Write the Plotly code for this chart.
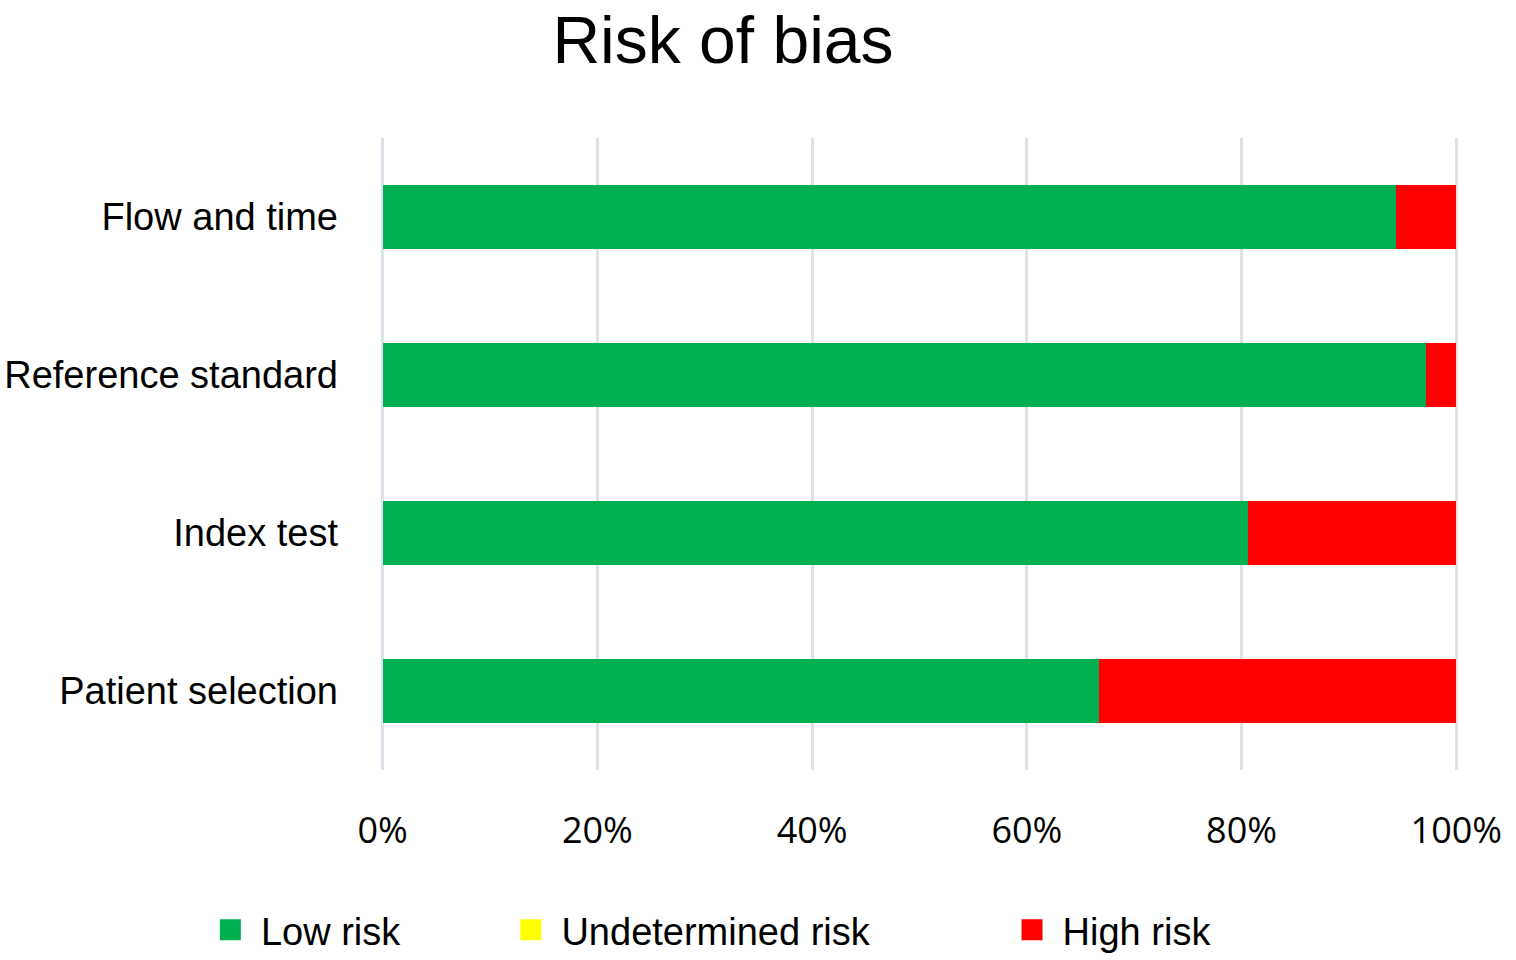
import plotly.graph_objects as go

categories = ["Patient selection", "Index test", "Reference standard", "Flow and time"]
low_risk = [66.7, 80.6, 97.2, 94.4]
undetermined_risk = [0, 0, 0, 0]
high_risk = [33.3, 19.4, 2.8, 5.6]
tick_vals = [0, 20, 40, 60, 80, 100]
tick_text = ["0%", "20%", "40%", "60%", "80%", "100%"]

NB = "\u00a0"
series = [
    ("Low risk", low_risk, "#00B050", 10),
    ("Undetermined risk", undetermined_risk, "#FFFF00", 13),
    ("High risk", high_risk, "#FF0000", 0),
]

fig = go.Figure()
for name, vals, color, pad in series:
    fig.add_trace(go.Bar(
        y=categories, x=vals, name=name, orientation="h",
        marker=dict(color=color, line=dict(width=0)),
        hovertemplate=name + ": %{x}%<extra></extra>",
        legendgroup=name, showlegend=False,
    ))
# legend entries (bigger square swatches)
for name, vals, color, pad in series:
    fig.add_trace(go.Scatter(
        x=[None], y=[None], mode="markers", name=NB + name + NB * pad,
        marker=dict(symbol="square", size=16, color=color,
                    line=dict(color=color, width=5)),
        legendgroup=name, showlegend=True, hoverinfo="skip",
    ))

fig.update_layout(
    width=1516, height=960,
    barmode="stack", bargap=0.6,
    plot_bgcolor="white", paper_bgcolor="white",
    margin=dict(l=380, r=57, t=138, b=190, autoexpand=False),
    title=dict(text="Risk of bias", x=723/1516, xanchor="center",
               y=1 - 40/960, yanchor="middle",
               font=dict(family="Liberation Sans, Arial", size=66, color="black")),
    xaxis=dict(range=[-0.25, 100.25], tickmode="array", tickvals=tick_vals, ticktext=tick_text,
               showgrid=True, gridcolor="#DDE2EA", gridwidth=3,
               zeroline=False, showline=False, ticks="", automargin=False,
               ticklabelstandoff=36,
               tickfont=dict(family="Open Sans", size=36, color="black")),
    yaxis=dict(showgrid=False, zeroline=False, showline=False, ticks="", automargin=False,
               categoryorder="array", categoryarray=categories,
               ticklabelstandoff=41,
               tickfont=dict(family="Liberation Sans, Arial", size=38, color="black")),
    legend=dict(orientation="h", x=(213 - 382) / 1075, xanchor="left",
                y=-160 / 632, yanchor="middle", itemsizing="trace",
                font=dict(family="Liberation Sans, Arial", size=38, color="black"),
                traceorder="normal"),
    showlegend=True,
)

fig.write_html("out.html", config={"displayModeBar": False},
               post_script="document.body.style.margin='0';document.body.style.padding='0';")
